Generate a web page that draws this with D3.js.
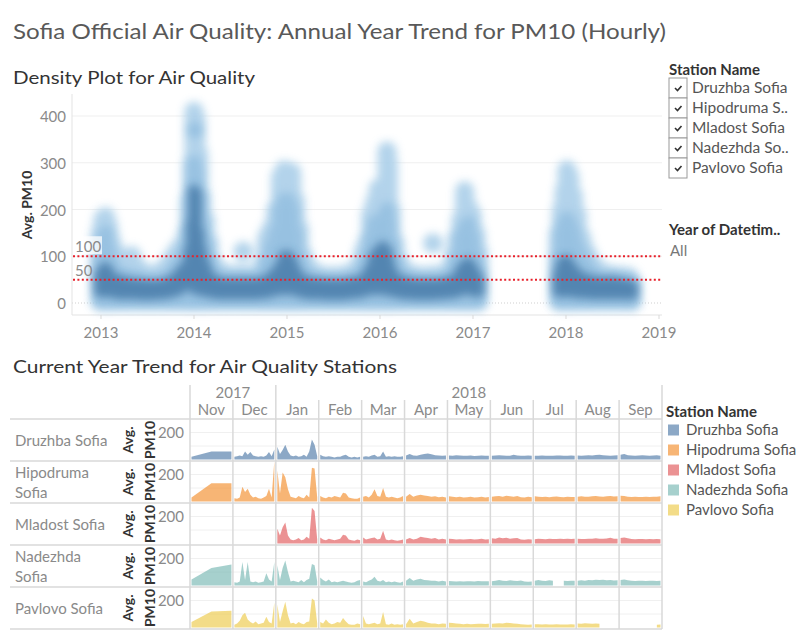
<!DOCTYPE html>
<html><head><meta charset="utf-8">
<script src="https://cdn.jsdelivr.net/npm/d3@7"></script>
<style>
body{margin:0;background:#fff;}
svg{display:block;font-family:Lato,"Open Sans",sans-serif;}
</style>
</head><body>
<svg id="chart" width="800" height="640"></svg>
<script>
// ---------------- DATA ----------------
// Density plot: [decimal year, top of light cloud, top of medium cloud, dark core low, dark core high] (Avg. PM10)
const density2013 = [
  [2012.99,150,100,25,60],[2013.02,180,135,25,70],[2013.05,185,150,25,75],[2013.08,165,115,25,65],
  [2013.11,135,90,25,55],[2013.15,110,70,22,50],[2013.20,95,60,20,48],[2013.25,95,60,20,45],
  [2013.31,90,55,20,42],[2013.37,80,55,20,40],[2013.43,70,50,18,40],[2013.49,60,45,18,38],
  [2013.55,60,45,18,38],[2013.61,65,45,20,38],[2013.67,70,50,20,40],[2013.73,85,55,22,45],
  [2013.78,100,70,25,50],[2013.83,115,85,28,60],[2013.88,125,100,35,72],[2013.92,150,120,40,78],
  [2013.95,220,160,40,110]
];
const density2014 = [
  [2013.98,300,240,40,170],[2014.00,410,300,35,240],[2014.02,395,280,30,235],[2014.05,320,230,30,150],
  [2014.08,230,170,28,110],[2014.12,180,130,25,80],[2014.16,130,90,25,60],[2014.20,90,65,22,50],
  [2014.26,70,55,20,45],[2014.32,65,50,20,42],[2014.38,60,48,20,42],[2014.44,60,48,20,42],
  [2014.50,62,48,20,42],[2014.56,60,48,20,42],[2014.62,60,48,20,42],[2014.68,62,48,20,42],
  [2014.74,80,55,22,45],[2014.78,140,90,22,48],[2014.83,160,120,25,55],[2014.88,200,150,28,65],
  [2014.93,270,200,30,80]
];
const density2015 = [
  [2014.97,285,220,30,100],[2015.01,280,220,30,100],[2015.05,280,200,30,90],[2015.09,220,150,28,70],
  [2015.13,160,100,25,55],[2015.18,100,70,22,48],[2015.24,75,55,20,45],[2015.30,65,50,20,42],
  [2015.36,60,48,20,42],[2015.42,58,45,18,40],[2015.48,58,45,18,40],[2015.54,58,45,18,40],
  [2015.60,60,45,18,40],[2015.66,62,48,20,42],[2015.72,68,50,22,45],[2015.77,80,55,22,45],
  [2015.82,110,75,25,50],[2015.86,130,100,28,60],[2015.90,190,140,30,75]
];
const density2016 = [
  [2015.94,215,170,30,100],[2015.98,245,175,30,110],[2016.03,230,180,30,120],[2016.075,325,200,30,110],
  [2016.09,300,170,28,90],[2016.12,200,130,25,70],[2016.16,130,90,25,55],[2016.21,90,65,22,48],
  [2016.26,70,55,20,45],[2016.32,62,50,20,42],[2016.38,60,48,18,40],[2016.44,58,45,18,40],
  [2016.50,58,45,18,40],[2016.56,60,45,18,40],[2016.62,60,45,20,40],[2016.68,62,48,20,42],
  [2016.74,70,50,22,45],[2016.79,100,70,22,45],[2016.83,140,100,25,55],[2016.87,180,140,28,70],
  [2016.91,240,160,30,80],[2016.95,205,170,30,85],[2016.99,190,140,28,75],[2017.03,150,100,25,60],
  [2017.06,110,70,25,50]
];
const density2018 = [
  [2017.92,150,100,25,60],[2017.95,200,150,25,80],[2017.98,240,170,25,90],[2018.01,285,180,25,90],
  [2018.04,270,170,25,80],[2018.08,230,150,25,70],[2018.12,190,120,22,60],[2018.17,140,100,22,55],
  [2018.22,110,80,22,50],[2018.27,90,65,20,48],[2018.33,75,55,20,45],[2018.39,65,50,20,45],
  [2018.45,62,50,20,45],[2018.51,60,50,20,45],[2018.57,58,48,20,42],[2018.63,58,45,20,40],
  [2018.68,55,45,20,38],[2018.71,45,40,20,35]
];
// isolated light blobs [decimal year, Avg. PM10]
const densityLightBlobs = [[2013.33,100],[2014.53,110],[2016.57,128]];
// medium-density blobs
const densityMidBlobs = [[2014.01,370],[2014.02,230],[2016.91,150],[2018.0,140]];
const densityYTicks = [0,100,200,300,400];
const densityYears = [2013,2014,2015,2016,2017,2018,2019];
const referenceLines = [100,50];

const stationNames = ["Druzhba Sofia","Hipodruma Sofia","Mladost Sofia","Nadezhda Sofia","Pavlovo Sofia"];
const filterLabels = ["Druzhba Sofia","Hipodruma S..","Mladost Sofia","Nadezhda So..","Pavlovo Sofia"];
const rowLabelLines = [["Druzhba Sofia"],["Hipodruma","Sofia"],["Mladost Sofia"],["Nadezhda","Sofia"],["Pavlovo Sofia"]];
const stationColors = ["#4e79a7","#f28e2b","#e15759","#76b7b2","#edc948"];

const months = ["Nov","Dec","Jan","Feb","Mar","Apr","May","Jun","Jul","Aug","Sep"];
const monthYears = ["2017","2017","2018","2018","2018","2018","2018","2018","2018","2018","2018"];
const trendTicks = [200];

// Avg. PM10 per station, one array per month (Nov 2017 .. Sep 2018), evenly spaced through the month
const trendDruzhba = [
  [20,59,59],
  [20,25,30,25,60,35,55,30,25,20,25,20,30,55,25,75],
  [95,40,70,110,60,30,25,30,20,25,35,20,60,148,110,25],
  [35,25,20,25,20,15,20,20,30,35,20,15,20,15,20],
  [20,25,20,30,35,20,25,60,20,25,20,25,20,20,25],
  [30,40,30,28,35,40,45,38,32,30,28,30],
  [30,28,32,30,27,28,30,26,28,30,27,28],
  [28,30,32,30,27,28,35,30,27,28,30,27],
  [27,28,30,28,27,28,30,29,27,28,30,28],
  [30,28,30,32,30,33,35,32,30,28,30,32],
  [35,40,32,30,28,30,32,30,28,30,32,28]
];
const trendHipodruma = [
  [30,135,135],
  [25,20,30,110,70,95,50,30,35,25,20,30,40,95,30,300],
  [230,60,215,180,90,35,30,25,40,30,25,50,30,250,245,30],
  [40,30,25,35,30,40,35,30,65,60,30,25,20,20,30],
  [35,40,30,50,90,40,35,100,35,30,35,30,25,30,40],
  [35,55,35,45,50,45,40,35,38,32,35,30],
  [38,35,32,35,30,32,35,30,32,35,30,33],
  [35,38,40,35,42,38,35,40,32,30,35,32],
  [38,35,33,35,32,35,37,33,32,35,33,34],
  [35,38,36,35,38,40,37,36,38,40,37,38],
  [42,40,35,33,35,34,33,35,34,35,36,38]
];
const trendMladost = [
  [],
  [],
  [110,60,120,155,60,30,25,30,40,25,30,50,35,265,240,30],
  [45,30,25,35,30,25,30,35,65,60,30,25,20,30,25],
  [45,30,35,40,45,30,35,95,30,25,30,25,20,25,30],
  [30,40,30,35,50,45,40,35,40,30,35,30],
  [35,33,30,32,30,31,33,30,32,35,30,32],
  [38,35,45,38,42,35,38,40,30,28,32,30],
  [32,35,33,32,35,34,33,35,34,36,33,35],
  [35,33,34,36,35,38,35,36,37,42,35,36],
  [40,45,38,33,32,33,34,32,33,32,33,31]
];
const trendNadezhda = [
  [45,130,155],
  [25,20,30,175,40,175,30,25,30,20,25,30,90,45,30,175],
  [150,40,130,185,100,30,35,30,25,40,25,40,50,160,150,30],
  [60,40,30,45,25,30,25,30,35,30,25,20,25,35,40],
  [30,25,35,45,65,35,30,40,25,30,25,30,25,20,30],
  [35,55,35,45,50,40,38,35,35,30,35,30],
  [33,32,30,31,30,32,31,30,33,32,31,32],
  [32,35,40,36,33,38,35,33,37,30,28,30],
  [35,40,36,34,38,35,null,null,35,34,36,35],
  [35,38,36,40,38,42,40,43,38,40,37,38],
  [40,45,38,35,34,36,35,34,35,36,34,35]
];
const trendPavlovo = [
  [40,118,125],
  [20,30,50,90,110,60,40,30,45,25,30,35,80,40,30,185],
  [170,40,120,190,90,30,35,25,40,30,25,40,45,215,200,30],
  [40,30,60,35,25,30,40,35,70,45,25,20,20,30,25],
  [85,30,25,30,35,25,30,115,25,20,30,20,25,20,25],
  [25,65,30,40,50,45,35,30,30,25,30,28],
  [35,33,30,28,25,27,25,26,28,27,26,28],
  [28,30,32,30,35,33,30,28,25,22,20,22],
  [25,24,22,25,23,22,24,22,23,22,24,22],
  [30,28,32,30,28,30,28,null,null,null,null,null],
  [null,null,null,null,null,null,null,null,null,null,20,22]
];
const trendSeries = [trendDruzhba,trendHipodruma,trendMladost,trendNadezhda,trendPavlovo];

// ---------------- DRAWING ----------------
const svg = d3.select("#chart");
const defs = svg.append("defs");
const blur = defs.append("filter").attr("id","blur")
  .attr("x","-10%").attr("y","-20%").attr("width","120%").attr("height","140%");
blur.append("feGaussianBlur").attr("stdDeviation",4.5);

// Titles
svg.append("text").attr("x",13).attr("y",39).attr("font-size",22).attr("fill","#595959")
  .attr("textLength",653).attr("lengthAdjust","spacingAndGlyphs")
  .text("Sofia Official Air Quality: Annual Year Trend for PM10 (Hourly)");
svg.append("text").attr("x",13).attr("y",84).attr("font-size",18).attr("fill","#333")
  .attr("textLength",242).attr("lengthAdjust","spacingAndGlyphs")
  .text("Density Plot for Air Quality");
svg.append("text").attr("x",13).attr("y",373).attr("font-size",18).attr("fill","#333")
  .attr("textLength",384).attr("lengthAdjust","spacingAndGlyphs")
  .text("Current Year Trend for Air Quality Stations");

// ---- Density plot ----
const x = d3.scaleLinear().domain([2013,2019]).range([101,659]);
const y = d3.scaleLinear().domain([0,400]).range([303,116]);
const plotL = 72, plotR = 662, plotT = 94, plotB = 315;

const dg = svg.append("g");
dg.selectAll("line.grid").data(densityYTicks.filter(d=>d>0)).join("line")
  .attr("x1",plotL).attr("x2",plotR).attr("y1",d=>y(d)).attr("y2",d=>y(d))
  .attr("stroke","#efefef").attr("stroke-width",1);
dg.append("line").attr("x1",plotL).attr("x2",plotR).attr("y1",y(0)).attr("y2",y(0))
  .attr("stroke","#cfcfcf").attr("stroke-dasharray","1,2");
dg.append("line").attr("x1",plotL).attr("x2",plotL).attr("y1",plotT).attr("y2",plotB).attr("stroke","#e3e3e3");
dg.append("line").attr("x1",plotL).attr("x2",plotR).attr("y1",plotB).attr("y2",plotB).attr("stroke","#e3e3e3");

const allSlices = [].concat(density2013,density2014,density2015,density2016,density2018);
const layerDefs = [
  {lo:d=>3, hi:d=>d[1], color:"#afd1ea", w:19, op:0.95, blobs:densityLightBlobs, r:10},
  {lo:d=>6, hi:d=>d[2], color:"#7db0d8", w:15, op:0.5, blobs:densityMidBlobs, r:8},
  {lo:d=>d[3], hi:d=>d[4], color:"#2c6294", w:12, op:0.62, blobs:[], r:0}
];
layerDefs.forEach(L=>{
  const g = dg.append("g").attr("filter","url(#blur)").attr("opacity",L.op);
  g.selectAll("line").data(allSlices).join("line")
    .attr("x1",d=>x(d[0])).attr("x2",d=>x(d[0]))
    .attr("y1",d=>y(L.lo(d))).attr("y2",d=>y(L.hi(d)))
    .attr("stroke",L.color).attr("stroke-width",L.w).attr("stroke-linecap","round");
  g.selectAll("circle").data(L.blobs).join("circle")
    .attr("cx",d=>x(d[0])).attr("cy",d=>y(d[1])).attr("r",L.r).attr("fill",L.color);
});

dg.selectAll("line.ref").data(referenceLines).join("line")
  .attr("x1",plotL+1).attr("x2",plotR).attr("y1",d=>y(d)).attr("y2",d=>y(d))
  .attr("stroke","#e8202a").attr("stroke-width",2).attr("stroke-dasharray","2,2.4");
dg.append("rect").attr("x",plotL+1).attr("y",y(100)-20).attr("width",29).attr("height",18)
  .attr("fill","#fff").attr("opacity",0.75);
dg.selectAll("text.reflab").data(referenceLines).join("text")
  .attr("x",75).attr("y",d=>y(d)-4).attr("font-size",15).attr("fill","#8a8a8a").text(d=>d);

dg.selectAll("text.yt").data(densityYTicks).join("text")
  .attr("x",66).attr("y",d=>y(d)+6).attr("text-anchor","end").attr("font-size",15)
  .attr("fill","#8a8a8a").text(d=>d);
dg.selectAll("line.xt").data(densityYears).join("line")
  .attr("x1",d=>x(d)).attr("x2",d=>x(d)).attr("y1",plotB).attr("y2",plotB+4).attr("stroke","#d9d9d9");
dg.selectAll("text.xl").data(densityYears).join("text")
  .attr("x",d=>x(d)).attr("y",338).attr("text-anchor","middle").attr("font-size",15)
  .attr("fill","#8a8a8a").text(d=>d3.format("d")(d));
dg.append("text").attr("transform","translate(32,205) rotate(-90)").attr("text-anchor","middle")
  .attr("font-size",14).attr("font-weight","bold").attr("fill","#333").text("Avg. PM10");

// ---- Filter legend (top right) ----
const fl = svg.append("g");
fl.append("text").attr("x",669).attr("y",75).attr("font-size",15).attr("font-weight","bold").attr("fill","#333").text("Station Name");
filterLabels.forEach((t,i)=>{
  const cy = 88 + i*20;
  fl.append("rect").attr("x",669).attr("y",cy-10).attr("width",18).attr("height",20)
    .attr("fill","#fff").attr("stroke","#9a9a9a").attr("stroke-width",1);
  fl.append("path").attr("d",`M${675},${cy} l2.5,2.5 l4,-4.5`).attr("fill","none")
    .attr("stroke","#333").attr("stroke-width",1.6);
  fl.append("text").attr("x",692).attr("y",cy+5).attr("font-size",15.5).attr("fill","#555").text(t);
});
fl.append("text").attr("x",669).attr("y",235).attr("font-size",15).attr("font-weight","bold").attr("fill","#333").text("Year of Datetim..");
fl.append("text").attr("x",670).attr("y",256).attr("font-size",15).attr("fill","#777").text("All");

// ---- Trend table ----
const tableL = 10, paneL = 190, paneR = 662;
const mBand = d3.scaleBand().domain(months).range([paneL,paneR]);
const rBand = d3.scaleBand().domain(stationNames).range([419,629]);
const tg = svg.append("g");

const rowEdges = [419].concat(stationNames.map(s=>rBand(s)+rBand.bandwidth()));
stationNames.forEach((s,si)=>{
  const yb = rBand(s)+rBand.bandwidth();
  const ys = d3.scaleLinear().domain([0,300]).range([yb-1.5,yb-42]);
  tg.selectAll(null).data([100,200]).join("line")
    .attr("x1",paneL).attr("x2",paneR).attr("y1",d=>ys(d)).attr("y2",d=>ys(d))
    .attr("stroke","#f0f0f0");
});

stationNames.forEach((s,si)=>{
  const y0 = rBand(s), yb = y0 + rBand.bandwidth();
  const ys = d3.scaleLinear().domain([0,300]).range([yb-1.5,yb-42]);
  const cid = "clip"+si;
  defs.append("clipPath").attr("id",cid).append("rect")
    .attr("x",paneL).attr("y",y0+0.5).attr("width",paneR-paneL).attr("height",rBand.bandwidth()-1);
  const g = tg.append("g").attr("clip-path",`url(#${cid})`);
  trendSeries[si].forEach((vals,mi)=>{
    if(!vals.length) return;
    const bx = mBand(months[mi]);
    const xi = d3.scaleLinear().domain([0,vals.length-1]).range([bx+1.5,bx+mBand.bandwidth()-1.5]);
    const area = d3.area().defined(v=>v!=null).x((v,i)=>xi(i)).y0(ys(0)).y1(v=>ys(v));
    g.append("path").attr("d",area(vals)).attr("fill",stationColors[si]).attr("fill-opacity",0.65);
  });
  tg.selectAll(null).data(trendTicks).join("text")
    .attr("x",184).attr("y",d=>ys(d)+5.5).attr("text-anchor","end").attr("font-size",15)
    .attr("fill","#8a8a8a").text(d=>d);
  const cy = y0 + rBand.bandwidth()/2;
  tg.append("text").attr("transform",`translate(133,${cy}) rotate(-90)`).attr("text-anchor","middle")
    .attr("font-size",14).attr("font-weight","bold").attr("fill","#333").text("Avg.");
  tg.append("text").attr("transform",`translate(155,${cy}) rotate(-90)`).attr("text-anchor","middle")
    .attr("font-size",14).attr("font-weight","bold").attr("fill","#333").text("PM10");
  const lines = rowLabelLines[si];
  lines.forEach((t,li)=>{
    tg.append("text").attr("x",15).attr("y",cy + 5.5 + (li-(lines.length-1)/2)*20)
      .attr("font-size",15).attr("fill","#8a8a8a").text(t);
  });
});

tg.selectAll("line.row").data(rowEdges).join("line")
  .attr("x1",tableL).attr("x2",paneR).attr("y1",d=>d).attr("y2",d=>d)
  .attr("stroke","#d9d9d9").attr("stroke-width",1.5);

const edges = months.map((m,i)=>({x:mBand(m), yearStart: i===0 || monthYears[i]!==monthYears[i-1]}));
edges.push({x:paneR, yearStart:true});
tg.selectAll("line.v").data(edges).join("line")
  .attr("x1",d=>d.x).attr("x2",d=>d.x).attr("y1",d=>d.yearStart?385:400).attr("y2",629)
  .attr("stroke","#d9d9d9").attr("stroke-width",1.5);

tg.selectAll("text.m").data(months).join("text")
  .attr("x",d=>mBand(d)+mBand.bandwidth()/2).attr("y",415).attr("text-anchor","middle")
  .attr("font-size",15).attr("fill","#8a8a8a").text(d=>d);
const yearGroups = d3.groups(months.map((m,i)=>({m,yr:monthYears[i]})), d=>d.yr);
yearGroups.forEach(([yr,ms])=>{
  const x0 = mBand(ms[0].m), x1 = mBand(ms[ms.length-1].m)+mBand.bandwidth();
  tg.append("text").attr("x",(x0+x1)/2).attr("y",398).attr("text-anchor","middle")
    .attr("font-size",15).attr("fill","#8a8a8a").text(yr);
});

const cl = svg.append("g");
cl.append("text").attr("x",666).attr("y",417).attr("font-size",15).attr("font-weight","bold").attr("fill","#333").text("Station Name");
stationNames.forEach((s,i)=>{
  const cy = 430 + i*20;
  cl.append("rect").attr("x",668).attr("y",cy-5.5).attr("width",11).attr("height",11)
    .attr("fill",stationColors[i]).attr("fill-opacity",0.65);
  cl.append("text").attr("x",686).attr("y",cy+5).attr("font-size",15).attr("fill","#555").text(s);
});
</script>
</body></html>
